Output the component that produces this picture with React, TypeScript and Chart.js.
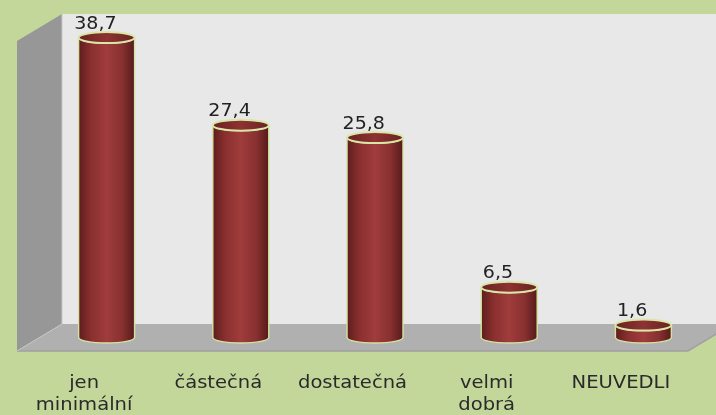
import React, { useEffect, useRef } from "react";
import { Chart, registerables } from "chart.js";

Chart.register(...registerables);

const categories: string[][] = [["jen", "minimální"], ["částečná"], ["dostatečná"], ["velmi", "dobrá"], ["NEUVEDLI"]];
const values: number[] = [38.7, 27.4, 25.8, 6.5, 1.6];
const valueLabels: string[] = ["38,7", "27,4", "25,8", "6,5", "1,6"];
const axisMin = 0;
const axisMax = 40;

const DX = 45;
const DY = -27;

function stretchedText(ctx: CanvasRenderingContext2D, text: string, x: number, y: number, sx: number) {
  ctx.save();
  ctx.translate(x, y);
  ctx.scale(sx, 1);
  ctx.fillText(text, 0, 0);
  ctx.restore();
}

const scenePlugin = {
  id: "scene3d",
  beforeDraw(chart: any) {
    const { ctx, chartArea } = chart;
    const { left: L, right: R, top: T, bottom: B } = chartArea;
    ctx.save();
    ctx.fillStyle = "#c4d79b";
    ctx.fillRect(0, 0, chart.width, chart.height);
    ctx.fillStyle = "#e8e8e8";
    ctx.fillRect(L + DX, T + DY, R - L + 40, B - T);
    ctx.fillStyle = "#979797";
    ctx.beginPath();
    ctx.moveTo(L, T);
    ctx.lineTo(L + DX, T + DY);
    ctx.lineTo(L + DX, B + DY);
    ctx.lineTo(L, B);
    ctx.closePath();
    ctx.fill();
    ctx.fillStyle = "#b0b0b0";
    ctx.beginPath();
    ctx.moveTo(L, B);
    ctx.lineTo(L + DX, B + DY);
    ctx.lineTo(R + DX, B + DY);
    ctx.lineTo(R, B);
    ctx.closePath();
    ctx.fill();
    ctx.strokeStyle = "#a0a0a0";
    ctx.lineWidth = 1.5;
    ctx.beginPath();
    ctx.moveTo(L, B);
    ctx.lineTo(R, B);
    ctx.lineTo(R + DX, B + DY);
    ctx.stroke();
    ctx.strokeStyle = "#c8c8c8";
    ctx.lineWidth = 1;
    ctx.beginPath();
    ctx.moveTo(L + DX, T + DY);
    ctx.lineTo(L + DX, B + DY);
    ctx.lineTo(L, B);
    ctx.stroke();
    ctx.restore();
  },
  afterDatasetsDraw(chart: any) {
    const { ctx, chartArea } = chart;
    const meta = chart.getDatasetMeta(0);
    const xScale = chart.scales.x;
    ctx.save();
    meta.data.forEach((bar: any, i: number) => {
      const cx = bar.x + DX / 2;
      const top = bar.y + DY / 2;
      const base = bar.base + DY / 2;
      const rx = bar.width / 2;
      const ry = 5.5;
      const grad = ctx.createLinearGradient(cx - rx, 0, cx + rx, 0);
      grad.addColorStop(0, "#5e1d1d");
      grad.addColorStop(0.22, "#8a2f2f");
      grad.addColorStop(0.5, "#a03c3c");
      grad.addColorStop(0.78, "#883030");
      grad.addColorStop(1, "#561a1a");
      ctx.beginPath();
      ctx.moveTo(cx - rx, top);
      ctx.lineTo(cx - rx, base);
      ctx.ellipse(cx, base, rx, ry, 0, Math.PI, 0, true);
      ctx.lineTo(cx + rx, top);
      ctx.ellipse(cx, top, rx, ry, 0, 0, Math.PI, false);
      ctx.closePath();
      ctx.fillStyle = grad;
      ctx.fill();
      ctx.strokeStyle = "#d4e3a0";
      ctx.lineWidth = 1.4;
      ctx.stroke();
      const tg = ctx.createLinearGradient(cx - rx, 0, cx + rx, 0);
      tg.addColorStop(0, "#6a2222");
      tg.addColorStop(0.5, "#8e3232");
      tg.addColorStop(1, "#6a2222");
      ctx.beginPath();
      ctx.ellipse(cx, top, rx, ry, 0, 0, Math.PI * 2);
      ctx.fillStyle = tg;
      ctx.fill();
      ctx.strokeStyle = "#d8e6a6";
      ctx.lineWidth = 2;
      ctx.stroke();
      ctx.fillStyle = "#222222";
      ctx.font = "17px 'DejaVu Sans'";
      ctx.textAlign = "center";
      ctx.textBaseline = "alphabetic";
      stretchedText(ctx, valueLabels[i], bar.x + DX / 4, top - 9, 1.12);
    });
    ctx.fillStyle = "#2a2a2a";
    ctx.font = "17px 'DejaVu Sans'";
    ctx.textAlign = "center";
    ctx.textBaseline = "alphabetic";
    categories.forEach((lines, i) => {
      const x = xScale.getPixelForValue(i);
      lines.forEach((line, j) => {
        stretchedText(ctx, line, x, chartArea.bottom + 37 + j * 22, 1.15);
      });
    });
    ctx.restore();
  },
};

export default function App() {
  const ref = useRef<HTMLCanvasElement | null>(null);
  useEffect(() => {
    document.body.style.margin = "0";
    const canvas = ref.current;
    if (!canvas) return;
    const chart = new Chart(canvas, {
      type: "bar",
      data: {
        labels: categories.map((c) => c.join(" ")),
        datasets: [
          {
            data: values,
            backgroundColor: "rgba(0,0,0,0)",
            borderWidth: 0,
            categoryPercentage: 1,
            barPercentage: 0.417,
          },
        ],
      },
      options: {
        animation: false,
        responsive: false,
        devicePixelRatio: 1,
        layout: { padding: { left: 17, right: 28, top: 41, bottom: 64 } },
        plugins: { legend: { display: false }, tooltip: { enabled: false } },
        scales: {
          x: { display: false },
          y: { display: false, min: axisMin, max: axisMax },
        },
      },
      plugins: [scenePlugin],
    });
    return () => chart.destroy();
  }, []);
  return (
    <div style={{ width: 716, height: 415 }}>
      <canvas ref={ref} width={716} height={415} style={{ display: "block" }} />
    </div>
  );
}
